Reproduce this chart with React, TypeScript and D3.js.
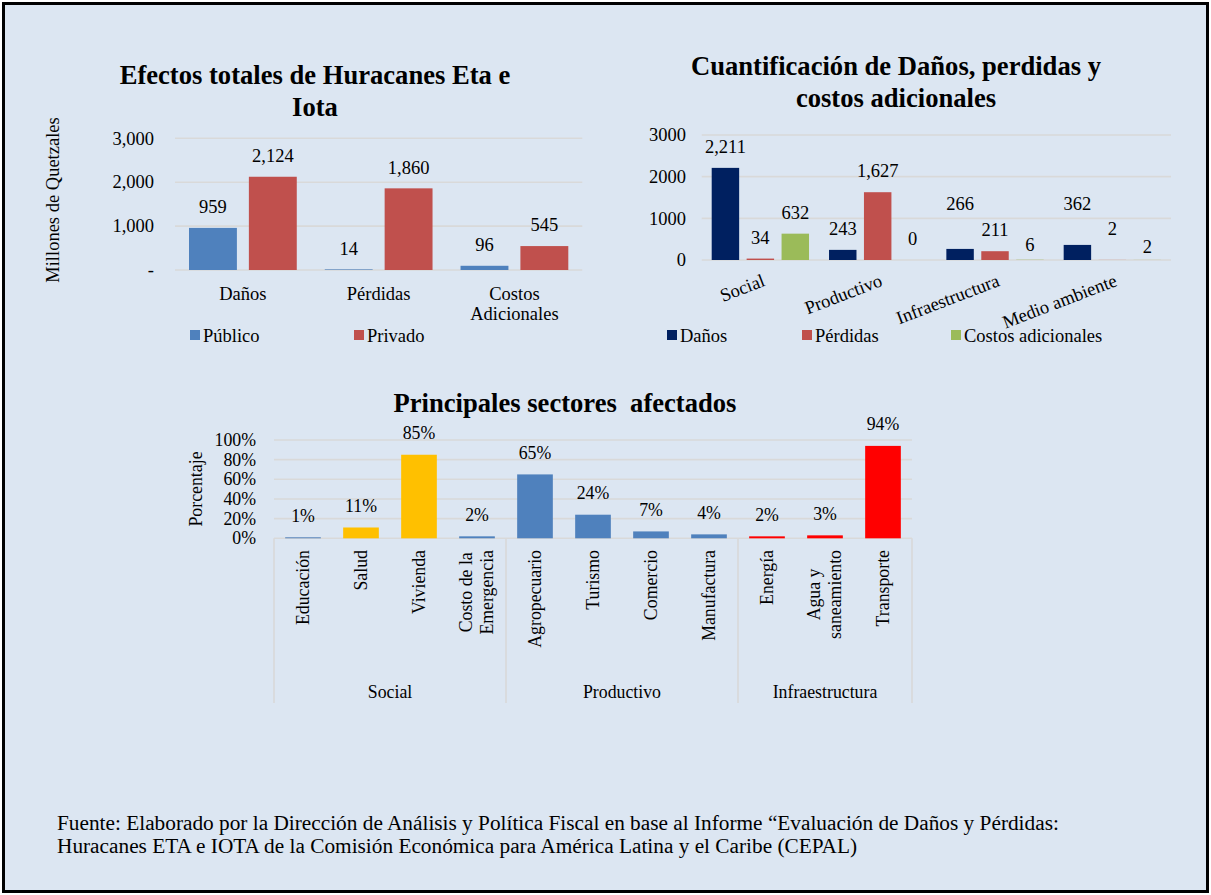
import React, { useEffect, useRef } from "react";
import * as d3 from "d3";

const W = 1211;
const H = 895;
const FONT = '"Liberation Serif", "Times New Roman", Times, serif';
const BG = "#dce6f2";
const GRID = "#d9d9d9";

// ---------- Chart 1: Efectos totales ----------
const c1Categories = ["Daños", "Pérdidas", "Costos\nAdicionales"];
const c1Series = ["Público", "Privado"];
const c1Publico = [959, 14, 96];
const c1Privado = [2124, 1860, 545];
const c1Ticks = [0, 1000, 2000, 3000];
const c1Colors = ["#4f81bd", "#c0504d"];

// ---------- Chart 2: Cuantificación ----------
const c2Categories = ["Social", "Productivo", "Infraestructura", "Medio ambiente"];
const c2Series = ["Daños", "Pérdidas", "Costos adicionales"];
const c2Danos = [2211, 243, 266, 362];
const c2Perdidas = [34, 1627, 211, 2];
const c2Costos = [632, 0, 6, 2];
const c2Ticks = [0, 1000, 2000, 3000];
const c2Colors = ["#002060", "#c0504d", "#9bbb59"];

// ---------- Chart 3: Principales sectores ----------
const c3Sectors = [
  "Educación",
  "Salud",
  "Vivienda",
  "Costo de la\nEmergencia",
  "Agropecuario",
  "Turismo",
  "Comercio",
  "Manufactura",
  "Energía",
  "Agua y\nsaneamiento",
  "Transporte",
];
const c3Groups = ["Social", "Productivo", "Infraestructura"];
const c3GroupOf = [0, 0, 0, 0, 1, 1, 1, 1, 2, 2, 2];
const c3Values = [0.01, 0.11, 0.85, 0.02, 0.65, 0.24, 0.07, 0.04, 0.02, 0.03, 0.94];
const c3Ticks = [0, 0.2, 0.4, 0.6, 0.8, 1];
const c3Colors = [
  "#4f81bd", "#ffc000", "#ffc000", "#4f81bd",
  "#4f81bd", "#4f81bd", "#4f81bd", "#4f81bd",
  "#ff0000", "#ff0000", "#ff0000",
];

const footerLines = [
  "Fuente: Elaborado por la Dirección de Análisis y Política Fiscal en base al Informe “Evaluación de Daños y Pérdidas:",
  "Huracanes ETA e IOTA de la Comisión Económica para América Latina y el Caribe (CEPAL)",
];

// manual label nudges (Excel-moved data labels) for chart 2, key "cat-series"
const c2LabelNudge: Record<string, number> = { "2-0": -24, "2-2": 6, "3-0": -20, "3-1": -10, "3-2": 8 };

export default function App() {
  const ref = useRef<SVGSVGElement>(null);

  useEffect(() => {
    const svg = d3.select(ref.current);
    svg.selectAll("*").remove();
    svg.append("rect").attr("width", W).attr("height", H).attr("fill", "#fff");
    svg
      .append("rect")
      .attr("x", 3.5)
      .attr("y", 3.5)
      .attr("width", W - 7)
      .attr("height", H - 7)
      .attr("fill", BG)
      .attr("stroke", "#000")
      .attr("stroke-width", 3);

    const text = (
      g: any,
      x: number,
      y: number,
      s: string,
      size: number,
      anchor = "middle",
      weight = "normal"
    ) =>
      g
        .append("text")
        .attr("x", x)
        .attr("y", y)
        .attr("font-family", FONT)
        .attr("font-size", size)
        .attr("font-weight", weight)
        .attr("text-anchor", anchor)
        .attr("fill", "#000")
        .style("white-space", "pre")
        .text(s);

    const FS = 18.5;
    const TFS = 26.6;

    // ================= Chart 1 =================
    {
      const g = svg.append("g");
      const y = d3.scaleLinear().domain([0, 3000]).range([270, 138.3]);
      const x0 = d3.scaleBand().domain(c1Categories).range([175, 582.3]).padding(0);
      const pad = 14;
      const xs = d3.scaleBand().domain(c1Series).range([pad, x0.bandwidth() - pad]).paddingInner(0.2);
      const [gx0, gx1] = x0.range();

      text(g, 315, 84, "Efectos totales de Huracanes Eta e", TFS, "middle", "bold");
      text(g, 315, 115.5, "Iota", TFS, "middle", "bold");

      g.append("text")
        .attr("transform", `translate(53,200) rotate(-90)`)
        .attr("dy", "0.3em")
        .attr("font-family", FONT)
        .attr("font-size", FS)
        .attr("text-anchor", "middle")
        .text("Millones de Quetzales");

      c1Ticks.forEach((t) => {
        g.append("line")
          .attr("x1", gx0)
          .attr("x2", gx1)
          .attr("y1", y(t))
          .attr("y2", y(t))
          .attr("stroke", GRID)
          .attr("stroke-width", 1.6);
        text(g, 154, y(t) + 6.2, t === 0 ? "-" : d3.format(",")(t), FS, "end");
      });

      const seriesVals = [c1Publico, c1Privado];
      c1Categories.forEach((c, ci) => {
        c1Series.forEach((s, si) => {
          const v = seriesVals[si][ci];
          const bx = (x0(c) as number) + (xs(s) as number);
          g.append("rect")
            .attr("x", bx)
            .attr("y", y(v))
            .attr("width", xs.bandwidth())
            .attr("height", y(0) - y(v))
            .attr("fill", c1Colors[si]);
          text(g, bx + xs.bandwidth() / 2, y(v) - 14.8, d3.format(",")(v), FS);
        });
        const cx = (x0(c) as number) + x0.bandwidth() / 2;
        c.split("\n").forEach((line, li) => text(g, cx, 299.5 + li * 20, line, FS));
      });

      // legend
      const legX = [190, 354];
      c1Series.forEach((s, si) => {
        g.append("rect").attr("x", legX[si]).attr("y", 330).attr("width", 10).attr("height", 10).attr("fill", c1Colors[si]);
        text(g, legX[si] + 13, 341.5, s, FS, "start");
      });
    }

    // ================= Chart 2 =================
    {
      const g = svg.append("g");
      const y = d3.scaleLinear().domain([0, 3000]).range([260, 135]);
      const x0 = d3.scaleBand().domain(c2Categories).range([701.7, 1171]).padding(0);
      const pad = 10;
      const xs = d3.scaleBand().domain(c2Series).range([pad, x0.bandwidth() - pad]).paddingInner(0.214);
      const [gx0, gx1] = x0.range();

      text(g, 896, 75.3, "Cuantificación de Daños, perdidas y", TFS, "middle", "bold");
      text(g, 896, 107, "costos adicionales", TFS, "middle", "bold");

      c2Ticks.forEach((t) => {
        g.append("line")
          .attr("x1", gx0)
          .attr("x2", gx1)
          .attr("y1", y(t))
          .attr("y2", y(t))
          .attr("stroke", GRID)
          .attr("stroke-width", 1.6);
        text(g, 686, y(t) + 6.2, String(t), FS, "end");
      });

      const seriesVals = [c2Danos, c2Perdidas, c2Costos];
      c2Categories.forEach((c, ci) => {
        c2Series.forEach((s, si) => {
          const v = seriesVals[si][ci];
          const bx = (x0(c) as number) + (xs(s) as number);
          g.append("rect")
            .attr("x", bx)
            .attr("y", y(v))
            .attr("width", xs.bandwidth())
            .attr("height", y(0) - y(v))
            .attr("fill", c2Colors[si]);
          const nudge = c2LabelNudge[`${ci}-${si}`] || 0;
          text(g, bx + xs.bandwidth() / 2, y(v) - 14.8 + nudge, d3.format(",")(v), FS);
        });
        const cx = (x0(c) as number) + x0.bandwidth() / 2;
        g.append("text")
          .attr("transform", `translate(${cx + 1},273) rotate(-21)`)
          .attr("dy", "0.72em")
          .attr("font-family", FONT)
          .attr("font-size", FS)
          .attr("text-anchor", "end")
          .text(c);
      });

      const legX = [667, 802, 951];
      c2Series.forEach((s, si) => {
        g.append("rect").attr("x", legX[si]).attr("y", 330).attr("width", 10).attr("height", 10).attr("fill", c2Colors[si]);
        text(g, legX[si] + 13, 341.5, s, FS, "start");
      });
    }

    // ================= Chart 3 =================
    {
      const g = svg.append("g");
      const FS3 = 17.8;
      const y = d3.scaleLinear().domain([0, 1]).range([538.3, 440]);
      const x = d3.scaleBand().domain(c3Sectors).range([274, 912]).paddingInner(0.385).paddingOuter(0.1925);
      const [gx0, gx1] = x.range();

      text(g, 565, 412, "Principales sectores  afectados", TFS, "middle", "bold");

      g.append("text")
        .attr("transform", `translate(197,489) rotate(-90)`)
        .attr("dy", "0.3em")
        .attr("font-family", FONT)
        .attr("font-size", FS3)
        .attr("text-anchor", "middle")
        .text("Porcentaje");

      c3Ticks.forEach((t) => {
        g.append("line")
          .attr("x1", gx0)
          .attr("x2", gx1)
          .attr("y1", y(t))
          .attr("y2", y(t))
          .attr("stroke", GRID)
          .attr("stroke-width", 1.6);
        text(g, 256, y(t) + 6, d3.format(".0%")(t), FS3, "end");
      });

      c3Sectors.forEach((s, i) => {
        const v = c3Values[i];
        const bx = x(s) as number;
        g.append("rect")
          .attr("x", bx)
          .attr("y", y(v))
          .attr("width", x.bandwidth())
          .attr("height", y(0) - y(v))
          .attr("fill", c3Colors[i]);
        text(g, bx + x.bandwidth() / 2, y(v) - 15.5, d3.format(".0%")(v), FS3);

        // rotated category label(s)
        const cx = bx + x.bandwidth() / 2;
        const lines = s.split("\n");
        const lg = g.append("g").attr("transform", `translate(${cx},550) rotate(-90)`);
        const nodes: any[] = [];
        const spacing = 21.6;
        lines.forEach((line, li) => {
          const off = (li - (lines.length - 1) / 2) * spacing;
          const t = lg
            .append("text")
            .attr("x", 0)
            .attr("y", off)
            .attr("dy", "0.32em")
            .attr("font-family", FONT)
            .attr("font-size", FS3)
            .attr("text-anchor", "end")
            .text(line);
          nodes.push(t);
        });
        if (nodes.length > 1) {
          const lens = nodes.map((t) => (t.node() as SVGTextElement).getComputedTextLength());
          const maxL = Math.max(...lens);
          nodes.forEach((t, k) => t.attr("x", -(maxL - lens[k]) / 2));
        }
      });

      // group axis
      const step = x.step();
      const bounds: number[] = [];
      c3Groups.forEach((_, gi) => {
        const idx = c3GroupOf.indexOf(gi);
        bounds.push(gx0 + idx * step);
      });
      bounds.push(gx1);
      bounds.forEach((b) => {
        g.append("line")
          .attr("x1", b)
          .attr("x2", b)
          .attr("y1", y(0))
          .attr("y2", 703)
          .attr("stroke", GRID)
          .attr("stroke-width", 1.6);
      });
      c3Groups.forEach((gr, gi) => {
        text(g, (bounds[gi] + bounds[gi + 1]) / 2, 698, gr, FS3);
      });
    }

    // ================= Footer =================
    footerLines.forEach((l, i) => text(svg, 57, 830 + i * 23, l, 21.3, "start"));
  }, []);

  return (
    <svg
      ref={ref}
      width={W}
      height={H}
      style={{ position: "absolute", left: 0, top: 0, display: "block" }}
    />
  );
}
